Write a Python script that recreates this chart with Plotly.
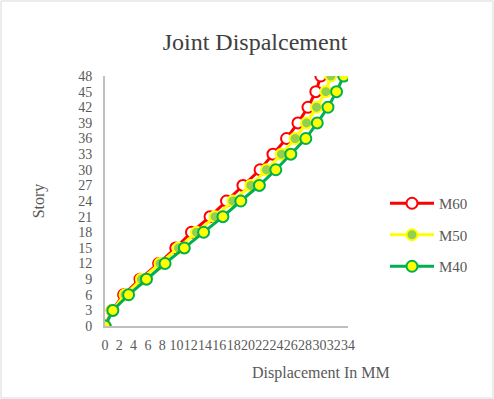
import plotly.graph_objects as go

stories = [0, 3, 6, 9, 12, 15, 18, 21, 24, 27, 30, 33, 36, 39, 42, 45, 48]
m60 = [0, 1.0, 2.6, 4.9, 7.5, 9.9, 12.1, 14.7, 17.0, 19.3, 21.7, 23.5, 25.4, 27.0, 28.4, 29.5, 30.2]
m50 = [0, 1.0, 2.8, 5.1, 7.7, 10.3, 12.8, 15.4, 17.9, 20.4, 22.6, 24.7, 26.6, 28.2, 29.6, 30.9, 31.6]
m40 = [0, 1.1, 3.3, 5.8, 8.4, 11.1, 13.8, 16.5, 19.0, 21.6, 23.9, 26.0, 28.1, 29.7, 31.2, 32.4, 33.4]

x_ticks = list(range(0, 35, 2))
y_ticks = list(range(0, 49, 3))

font_family = "Liberation Serif, Times New Roman, serif"

fig = go.Figure()
fig.add_trace(go.Scatter(x=m60, y=stories, name="M60", mode="lines+markers", legendgroup="a",
                         line=dict(color="#ff0000", width=3),
                         marker=dict(size=11, color="white", line=dict(color="#ff0000", width=2))))
fig.add_trace(go.Scatter(x=m50, y=stories, name="M50", mode="lines+markers", legendgroup="b",
                         line=dict(color="#ffff00", width=3),
                         marker=dict(size=11, color="#92d050", line=dict(color="#ffff00", width=2))))
fig.add_trace(go.Scatter(x=m40, y=stories, name="M40", mode="lines+markers", legendgroup="c",
                         line=dict(color="#00b050", width=3),
                         marker=dict(size=11, color="#ffff00", line=dict(color="#00b050", width=2))))

L, R, T, B = 105, 146, 76, 73
pw = 494 - L - R
ph = 399 - T - B

fig.update_layout(
    width=494, height=399,
    margin=dict(l=L, r=R, t=T, b=B),
    paper_bgcolor="white", plot_bgcolor="white",
    font=dict(family=font_family, color="#595959", size=14),
    title=dict(text="Joint Dispalcement", x=255/494, xanchor="center", y=1-42/399, yanchor="middle",
               font=dict(size=24, color="#404040", family=font_family)),
    showlegend=True,
    legend=dict(x=(385 - L)/pw, xanchor="left", y=(326-187)/ph, yanchor="top",
                font=dict(size=15, color="#595959"), bgcolor="rgba(0,0,0,0)",
                itemwidth=44, tracegroupgap=9),
    xaxis=dict(range=[0, 34], tickvals=x_ticks, ticktext=[str(v) for v in x_ticks], tickangle=0,
               showgrid=False, zeroline=False, showline=True, linecolor="#bfbfbf", linewidth=2,
               ticks="", tickfont=dict(size=14, color="#595959"), ticklabelstandoff=5),
    yaxis=dict(range=[0, 48], tickvals=y_ticks, showgrid=False, zeroline=False,
               showline=True, linecolor="#bfbfbf", linewidth=2, ticks="",
               tickfont=dict(size=14, color="#595959"), ticklabelstandoff=8,
               title=dict(text="Story", font=dict(size=16, color="#595959"), standoff=30)),
    annotations=[dict(text="Displacement In MM", xref="paper", yref="paper",
                      x=(321 - L)/pw, y=-(373 - 326)/ph, xanchor="center", yanchor="middle",
                      showarrow=False, font=dict(size=16, color="#595959"))],
    shapes=[dict(type="rect", xref="paper", yref="paper",
                 x0=(1 - L)/pw, x1=(493 - L)/pw, y0=-(398 - 326)/ph, y1=(326 - 1)/ph,
                 line=dict(color="#d9d9d9", width=1), fillcolor="rgba(0,0,0,0)", layer="below")],
)
fig.write_html("out.html")
